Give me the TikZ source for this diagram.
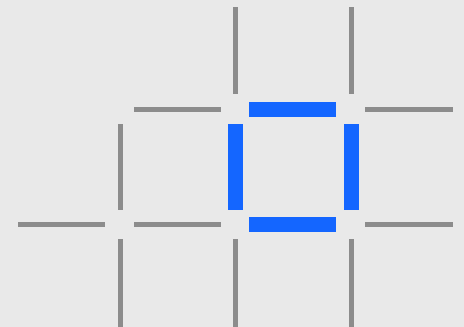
\documentclass[tikz,border=0pt]{standalone}
\definecolor{bg}{HTML}{E9E9E9}
\definecolor{seg}{HTML}{8C8C8C}
\definecolor{hi}{HTML}{1466FF}
\tikzset{
  grayseg/.style={draw=seg, line width=5pt, line cap=butt},
  blueseg/.style={draw=hi, line width=15pt, line cap=butt},
}
\begin{document}
\begin{tikzpicture}[x=1pt,y=-1pt]
\fill[bg] (0,0) rectangle (464,327);
\clip (0,0) rectangle (464,327);
% columns x: 120, 235.5, 351 ; rows y: 109.5, 224.5
% top verticals
\draw[grayseg] (235.5,7) -- (235.5,94);
\draw[grayseg] (351,7) -- (351,94);
% row 1
\draw[grayseg] (134,109.5) -- (221,109.5);
\draw[blueseg] (249,109.5) -- (336,109.5);
\draw[grayseg] (365,109.5) -- (453,109.5);
% middle verticals
\draw[grayseg] (120,124) -- (120,210);
\draw[blueseg] (235.5,124) -- (235.5,210);
\draw[blueseg] (351,124) -- (351,210);
% row 2
\draw[grayseg] (18,224.5) -- (105,224.5);
\draw[grayseg] (134,224.5) -- (221,224.5);
\draw[blueseg] (249,224.5) -- (336,224.5);
\draw[grayseg] (365,224.5) -- (453,224.5);
% bottom verticals
\draw[grayseg] (120,239) -- (120,330);
\draw[grayseg] (235.5,239) -- (235.5,330);
\draw[grayseg] (351,239) -- (351,330);
\end{tikzpicture}
\end{document}
